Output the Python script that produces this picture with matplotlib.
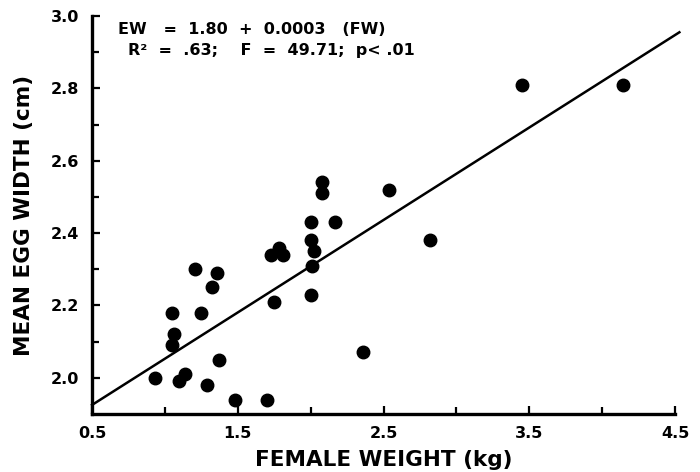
import numpy as np
import matplotlib
matplotlib.use("Agg")
import matplotlib.pyplot as plt
from matplotlib.ticker import FixedLocator

# female weight (kg) vs mean egg width (cm)
female_weight = [0.93, 1.05, 1.06, 1.05, 1.10, 1.14, 1.21, 1.25, 1.32, 1.36,
                 1.37, 1.29, 1.48, 1.70, 1.75, 1.73, 1.78, 1.81, 2.00, 2.01,
                 2.00, 2.02, 2.00, 2.08, 2.08, 2.17, 2.36, 2.54, 2.82, 3.45, 4.14]
egg_width = [2.00, 2.18, 2.12, 2.09, 1.99, 2.01, 2.30, 2.18, 2.25, 2.29,
             2.05, 1.98, 1.94, 1.94, 2.21, 2.34, 2.36, 2.34, 2.23, 2.31,
             2.38, 2.35, 2.43, 2.54, 2.51, 2.43, 2.07, 2.52, 2.38, 2.81, 2.81]

# regression line as drawn in the figure
fit_x = [0.5, 4.53]
fit_y = [1.925, 2.955]

xticks = [0.5, 1.5, 2.5, 3.5, 4.5]
yticks = [2.0, 2.2, 2.4, 2.6, 2.8, 3.0]

eq_line1 = "EW   =  1.80  +  0.0003   (FW)"
eq_line2 = "R²  =  .63;    F  =  49.71;  p< .01"

plt.rcParams['font.family'] = ['DejaVu Sans']
plt.rcParams['font.weight'] = 'bold'

fig = plt.figure(figsize=(7, 4.72), dpi=100)
ax = fig.add_axes([92/700, 1 - 414/472, (675 - 92)/700, (414 - 16)/472])

ax.plot(female_weight, egg_width, 'o', color='black', markersize=9, zorder=3)
ax.plot(fit_x, fit_y, '-', color='black', linewidth=1.8, clip_on=False)

ax.set_xlim(0.5, 4.5)
ax.set_ylim(1.9, 3.0)

ax.xaxis.set_major_locator(FixedLocator(xticks))
ax.xaxis.set_minor_locator(FixedLocator([1.0, 2.0, 3.0, 4.0]))
ax.yaxis.set_major_locator(FixedLocator(yticks))
ax.yaxis.set_minor_locator(FixedLocator([2.1, 2.3, 2.5, 2.7, 2.9]))
ax.set_xticklabels([f"{v:.1f}" for v in xticks])
ax.set_yticklabels([f"{v:.1f}" for v in yticks])

for side in ['top', 'right']:
    ax.spines[side].set_visible(False)
for side in ['left', 'bottom']:
    ax.spines[side].set_linewidth(2.4)

ax.tick_params(which='both', direction='in', width=1.6, labelsize=11.5)
ax.tick_params(which='major', length=6)
ax.tick_params(which='minor', length=5)
ax.tick_params(axis='y', pad=9)
ax.tick_params(axis='x', pad=9)

ax.set_xlabel("FEMALE WEIGHT (kg)", fontsize=15.5, fontweight='bold', labelpad=6)
ax.set_ylabel("MEAN EGG WIDTH (cm)", fontsize=15.5, fontweight='bold', labelpad=12)

ax.text(118/700, 1 - 30/472, eq_line1, transform=fig.transFigure,
        fontsize=11.5, fontweight='bold', va='center', ha='left')
ax.text(128/700, 1 - 50/472, eq_line2, transform=fig.transFigure,
        fontsize=11.5, fontweight='bold', va='center', ha='left')

fig.savefig("out.png", dpi=100)
